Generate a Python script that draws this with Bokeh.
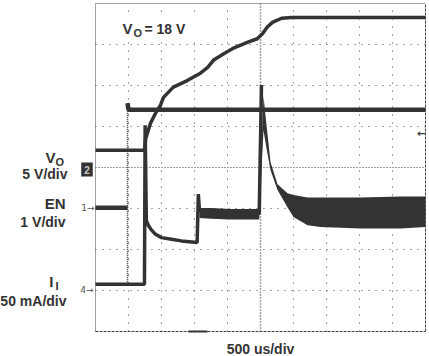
from bokeh.plotting import figure
from bokeh.models import Range1d, Label, BoxAnnotation
from bokeh.embed import file_html
from bokeh.resources import INLINE

# ---------------- scope settings ----------------
time_per_div = 500        # us/div
n_xdiv = 10
n_ydiv = 8
vo_scale = 5.0            # V/div
en_scale = 1.0            # V/div
ii_scale = 50.0           # mA/div
vo_zero_div = 3.88        # channel ground markers (divisions from bottom)
en_zero_div = 3.02
ii_zero_div = 1.15

# ---------------- data ----------------
# EN (V)
en_t = [0, 485, 485, 500, 5000]
en_v = [0, 0, 2.55, 2.39, 2.39]

# VO (V)
vo_t = [0, 742, 760, 833, 909, 985, 1030, 1180, 1390, 1590, 1700, 1790, 1950,
        2100, 2300, 2450, 2530, 2600, 2680, 2820, 2970, 5000]
vo_v = [2.7, 2.7, 4.1, 6.0, 7.2, 8.2, 9.15, 10.4, 11.2, 12.1, 12.8, 13.7, 14.5,
        15.2, 15.85, 16.3, 16.9, 17.7, 18.3, 18.8, 18.9, 18.9]

# II (mA) centre trace
ii_t = [0, 742, 752, 770, 800, 840, 910, 1000, 1150, 1300, 1540, 1558, 1575, 2480, 2515]
ii_ma = [0, 0, 194, 78, 72, 67, 61, 57, 55, 53, 51, 110, 90, 86, 243]

# II ripple envelope (mA)
rp_t = [1575, 1750, 2050, 2480, 2545, 2591, 2652, 2758, 2909, 3000, 3212, 3409, 4015, 4621, 5000]
rp_hi = [93, 93, 92, 92, 230, 194, 149, 122, 111, 109, 106, 106, 106, 107, 107]
rp_lo = [81, 80, 79, 79, 188, 166, 139, 115, 94, 82, 72, 70, 68, 68, 70]

# glitch on II at the EN edge
gl_t = [485]
gl_ma = [94]

# ---------------- layout of the screen inside the canvas ----------------
W, H = 429, 356
BOX_L, BOX_R, BOX_T, BOX_B = 95, 425, 3, 331   # graticule box in canvas px
t_full = n_xdiv * time_per_div
us_per_px = t_full / (BOX_R - BOX_L)
div_per_px = n_ydiv / (BOX_B - BOX_T)
x_start = -BOX_L * us_per_px
x_end = t_full + (W - BOX_R) * us_per_px
y_start = -(H - BOX_B) * div_per_px
y_end = n_ydiv + BOX_T * div_per_px

TRACE = "#333333"
GRID = "#444444"
TEXT = "#333333"
FONT = "Liberation Sans"

p = figure(width=W, height=H,
           x_range=Range1d(x_start, x_end), y_range=Range1d(y_start, y_end),
           x_axis_location=None, y_axis_location=None,
           toolbar_location=None, output_backend="svg", min_border=0,
           background_fill_color="white", border_fill_color="white")
p.title.visible = False
p.outline_line_color = None
p.grid.visible = False

p.extra_y_ranges = {
    "vo": Range1d((y_start - vo_zero_div) * vo_scale, (y_end - vo_zero_div) * vo_scale),
    "en": Range1d((y_start - en_zero_div) * en_scale, (y_end - en_zero_div) * en_scale),
    "ii": Range1d((y_start - ii_zero_div) * ii_scale, (y_end - ii_zero_div) * ii_scale),
}

# ---------------- graticule ----------------
xt = [time_per_div * i for i in range(1, n_xdiv) if i != n_xdiv // 2]
yt = [i for i in range(1, n_ydiv) if i != n_ydiv // 2]
p.segment(x0=xt, y0=[0] * len(xt), x1=xt, y1=[n_ydiv] * len(xt),
          line_color=GRID, line_width=1, line_dash="1 7")
p.segment(x0=[0] * len(yt), y0=yt, x1=[t_full] * len(yt), y1=yt,
          line_color=GRID, line_width=1, line_dash="1 6")
p.segment(x0=[t_full / 2], y0=[0], x1=[t_full / 2], y1=[n_ydiv],
          line_color=GRID, line_width=1.5, line_dash="1 2")
p.segment(x0=[0], y0=[n_ydiv / 2], x1=[t_full], y1=[n_ydiv / 2],
          line_color=GRID, line_width=1.2, line_dash="1 2")
# frame: left/top dotted, right/bottom dashed
p.segment(x0=[0, 0], y0=[0, n_ydiv], x1=[0, t_full], y1=[n_ydiv, n_ydiv],
          line_color=GRID, line_width=1, line_dash="1 1")
p.segment(x0=[t_full, 0], y0=[0, 0], x1=[t_full, t_full], y1=[n_ydiv, 0],
          line_color=GRID, line_width=1, line_dash="3 1")

# ---------------- traces ----------------
# EN
p.line(en_t[:2], en_v[:2], y_range_name="en", line_color=TRACE, line_width=4.5)
p.line(en_t[1:3], en_v[1:3], y_range_name="en", line_color=TRACE, line_width=1.5, line_dash="1 1")
p.line(en_t[2:], en_v[2:], y_range_name="en", line_color=TRACE, line_width=4.5)
# VO
p.line(vo_t, vo_v, y_range_name="vo", line_color=TRACE, line_width=3.5)
# II
p.varea(x=rp_t, y1=rp_lo, y2=rp_hi, y_range_name="ii", fill_color=TRACE)
p.line(ii_t, ii_ma, y_range_name="ii", line_color=TRACE, line_width=3.5)
p.segment(x0=gl_t, y0=[0] * len(gl_t), x1=gl_t, y1=gl_ma, y_range_name="ii",
          line_color=TRACE, line_width=1.5, line_dash="1 1")

# ---------------- annotations ----------------
DY = 5  # renderer places alphabetic baselines slightly low; compensate


def lab(text, cx, cy, size, align="left", baseline="alphabetic", color=TEXT, bold=True,
        bg=None, pad=0, font=FONT):
    kw = {}
    if bg is not None:
        kw = dict(background_fill_color=bg, background_fill_alpha=1.0, padding=pad)
    if baseline == "alphabetic":
        cy = cy - DY
    p.add_layout(Label(x=cx, y=H - cy, x_units="screen", y_units="screen", text=text,
                       text_font=font, text_font_size=f"{size}px",
                       text_font_style="bold" if bold else "normal",
                       text_color=color, text_align=align, text_baseline=baseline, **kw))


def box(l, r, t, b, color):
    p.add_layout(BoxAnnotation(left=l, right=r, bottom=H - b, top=H - t,
                               left_units="screen", right_units="screen",
                               bottom_units="screen", top_units="screen",
                               fill_color=color, fill_alpha=1.0, line_color=None))


# white box behind the VO note
box(113, 200, 17, 38, "white")
lab("V", 122, 33, 15)
lab("O", 133, 37, 11)
lab("= 18 V", 144, 33, 14)

# channel labels
lab("V", 55, 162, 15, align="right")
lab("O", 55, 166, 11)
lab("5 V/div", 67, 178, 14, align="right")
lab("EN", 65, 208, 15, align="right")
lab("1 V/div", 65, 226, 14, align="right")
lab("I", 53, 286, 15, align="right")
lab("I", 55, 290, 11)
lab("50 mA/div", 66, 305, 14, align="right")
lab("500 us/div", 260, 353, 14, align="center")

# channel ground markers
lab("2", 86.5, 169, 10, align="center", baseline="middle", color="#cccccc", bg="#333333", pad=3)
lab("1→", 94, 207, 9, align="right", baseline="middle", color="#555555", bold=False, font="DejaVu Sans")
lab("4→", 93, 289, 9, align="right", baseline="middle", color="#555555", bold=False, font="DejaVu Sans")
# trigger level marker
lab("←", 425, 133, 10, align="right", baseline="middle", color="#333333", font="DejaVu Sans")
# trigger position marker on the bottom edge
box(188, 207, 330, 332, "#333333")

open("out.html", "w").write(file_html(p, INLINE))
